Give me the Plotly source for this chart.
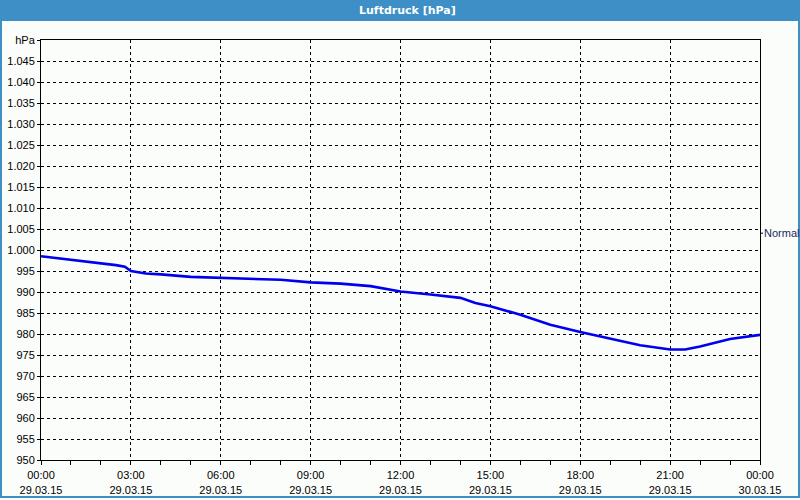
import pandas as pd
import plotly.graph_objects as go

# ---- data ----
hours = [0, 0.5, 1, 1.5, 2, 2.5, 2.8, 3, 3.5, 4, 5, 6, 7, 8, 9, 10, 11, 12, 13, 14,
         14.5, 15, 16, 17, 18, 19, 20, 21, 21.5, 22, 23, 24]
pressure = [998.5, 998.1, 997.7, 997.2, 996.8, 996.4, 996.0, 995.0, 994.4, 994.2, 993.6,
            993.4, 993.2, 992.9, 992.3, 992.0, 991.4, 990.1, 989.4, 988.6,
            987.4, 986.6, 984.6, 982.2, 980.5, 978.9, 977.3, 976.3, 976.3, 977.0, 978.8, 979.8]
normal_value = 1004.0
y_ticks = list(range(950, 1051, 5))
y_ticktext = [f"{v:,}".replace(",", ".") for v in y_ticks[:-1]] + ["hPa"]
title_text = "Luftdruck [hPa]"
normal_label = "Normal"

start = pd.Timestamp("2015-03-29 00:00")
times = [start + pd.Timedelta(hours=h) for h in hours]
x_ticks = [start + pd.Timedelta(hours=h) for h in range(0, 25, 3)]
x_ticktext = [t.strftime("%H:%M") + "<br>" + t.strftime("%d.%m.%y") for t in x_ticks]

# ---- layout geometry (pixels) ----
L, R, T, B = 41, 760, 40, 460
W, H = R - L, B - T
def px(x):
    return (x - L) / W
def py(y):
    return (B - y) / H

FONT = "Liberation Sans, Arial, sans-serif"
BLUE_BAR = "#3d8fc6"

fig = go.Figure()
fig.add_trace(go.Scatter(x=times, y=pressure, mode="lines",
                         line=dict(color="#0000ee", width=2.6), hoverinfo="skip",
                         showlegend=False))

axis_common = dict(showline=True, linecolor="black", linewidth=1, mirror=True,
                   showgrid=True, gridcolor="black", gridwidth=1, griddash="3px,3px",
                   zeroline=False, tickfont=dict(family=FONT, size=11, color="black"),
                   ticks="outside", tickcolor="black", automargin=False)

fig.update_layout(
    template="none",
    width=800, height=500,
    margin=dict(l=L, r=800 - R, t=T, b=500 - B, pad=0),
    paper_bgcolor="#fbfdfb", plot_bgcolor="#fbfdfb",
    xaxis=dict(**axis_common, range=[start, start + pd.Timedelta(hours=24)],
               tickvals=x_ticks, ticktext=x_ticktext, ticklen=4, ticklabelstandoff=1,
               minor=dict(dtick=3600000, tick0=start, ticks="outside", ticklen=4,
                          tickcolor="black", showgrid=False)),
    yaxis=dict(**axis_common, range=[950, 1050], tickvals=y_ticks, ticktext=y_ticktext,
               ticklen=3),
    shapes=[
        dict(type="rect", xref="paper", yref="paper", x0=px(0), x1=px(800),
             y0=py(21), y1=py(0), fillcolor=BLUE_BAR, line=dict(width=0), layer="above"),
        dict(type="line", xref="paper", yref="paper", x0=px(1), x1=px(1),
             y0=py(0), y1=py(497), line=dict(color=BLUE_BAR, width=2)),
        dict(type="line", xref="paper", yref="paper", x0=px(799), x1=px(799),
             y0=py(0), y1=py(497), line=dict(color=BLUE_BAR, width=2)),
        dict(type="line", xref="paper", yref="paper", x0=px(0), x1=px(800),
             y0=py(497), y1=py(497), line=dict(color=BLUE_BAR, width=2)),
        dict(type="line", xref="paper", yref="y", x0=1, x1=px(763),
             y0=normal_value, y1=normal_value, line=dict(color="black", width=1)),
    ],
    annotations=[
        dict(text="<b>" + title_text + "</b>", xref="paper", yref="paper",
             x=px(407), y=py(10.5), showarrow=False, xanchor="center", yanchor="middle",
             font=dict(family="DejaVu Sans, sans-serif", size=11, color="white")),
        dict(text=normal_label, xref="paper", yref="y", x=px(799.5), y=normal_value,
             showarrow=False, xanchor="right", yanchor="middle", borderpad=0,
             font=dict(family=FONT, size=11, color="#1c2a5e")),
    ],
)

fig.write_html("out.html")
